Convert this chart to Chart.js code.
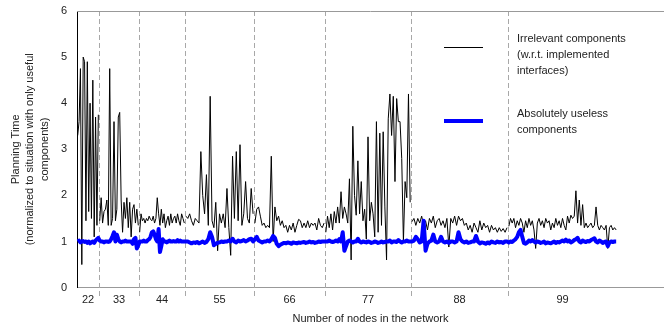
<!DOCTYPE html>
<html>
<head>
<meta charset="utf-8">
<script src="https://cdn.jsdelivr.net/npm/chart.js@4"></script>
<style>
  html, body { margin: 0; padding: 0; background: #fff; }
  #wrap { width: 664px; height: 326px; }
</style>
</head>
<body>
<div id="wrap"><canvas id="planChart"></canvas></div>
<script>
// network sizes and how many runs each block takes on the x axis
const groupLabels = ['22', '33', '44', '55', '66', '77', '88', '99'];
const groupRuns = [22, 40, 46, 69, 71, 86, 97, 109];
const runAxisMax = 587;

// irrelevant components (w.r.t. implemented interfaces)
const irrelevant22 = [3.3, 3.6, 4.75, 0.5, 5.0, 4.9, 1.45, 4.9, 1.65, 4.0, 1.5, 4.5, 1.1, 3.7, 1.35, 3.75];
const irrelevant33 = [1.45, 1.95, 1.4, 1.65, 1.7, 1.9, 1.35, 4.75, 1.35, 1.5, 3.6, 1.45, 1.7, 3.7, 3.8, 1.9, 1.2, 1.85, 1.5, 1.95, 1.3, 1.85, 1.1, 1.7, 1.8, 1.4, 1.7, 1.35];
const irrelevant44 = [1.2, 1.6, 1.45, 1.5, 1.4, 1.5, 1.45, 1.55, 1.48, 1.45, 1.55, 1.4, 1.5, 1.95, 1.6, 1.35, 1.7, 1.4, 1.6, 1.3, 1.45, 1.55, 1.35, 1.6, 1.4, 1.5, 1.55, 1.4, 1.6, 1.45, 1.35, 1.6, 1.5, 1.4];
const irrelevant55 = [1.55, 1.5, 1.6, 1.45, 1.35, 1.5, 1.45, 1.4, 2.95, 2.0, 1.6, 2.45, 1.35, 4.15, 1.45, 1.3, 1.85, 0.8, 1.6, 1.4, 1.6, 1.3, 2.15, 1.3, 0.7, 2.85, 1.5, 2.95, 1.45, 3.1, 1.35, 1.6, 2.3, 1.5, 1.4, 2.15, 1.6];
const irrelevant66 = [1.4, 1.7, 1.75, 1.55, 1.35, 1.4, 1.3, 1.35, 1.3, 2.85, 1.0, 1.75, 1.45, 1.55, 1.35, 1.45, 1.3, 1.35, 1.2, 1.35, 1.25, 1.4, 1.2, 1.35, 1.48, 1.45, 1.3, 1.4, 1.3, 1.45, 1.3, 1.4, 1.35, 1.4, 1.25, 1.5, 1.35, 1.3, 1.4];
const irrelevant77 = [1.2, 1.55, 1.3, 1.6, 1.25, 1.65, 1.4, 1.75, 1.4, 2.08, 1.5, 1.75, 1.6, 1.4, 2.36, 0.6, 3.5, 2.0, 1.57, 2.75, 1.6, 2.3, 1.45, 1.7, 1.05, 3.27, 1.45, 1.85, 1.6, 1.1, 3.6, 1.2, 3.35, 1.35, 3.38, 1.75, 0.6, 3.66, 4.2, 3.3, 4.15, 2.3, 4.1, 3.6, 3.6, 2.8, 1.0, 2.3, 1.95, 4.2, 1.85];
const irrelevant88 = [1.43, 1.5, 1.35, 1.5, 1.4, 1.55, 1.35, 1.45, 1.25, 1.5, 1.4, 1.55, 1.3, 1.45, 1.5, 1.35, 1.45, 1.3, 1.5, 0.88, 1.5, 1.4, 1.55, 1.35, 1.55, 1.45, 1.5, 1.35, 1.4, 1.25, 1.35, 1.2, 1.4, 1.3, 1.2, 1.45, 1.25, 1.4, 1.3, 1.35, 1.2, 1.35, 1.25, 1.3, 1.2, 1.3, 1.22, 1.28, 1.2, 1.3];
const irrelevant99 = [1.33, 1.5, 1.4, 1.5, 1.3, 1.45, 1.35, 1.5, 1.4, 1.2, 1.45, 1.3, 1.5, 1.35, 1.45, 1.25, 0.85, 1.4, 1.5, 1.35, 1.45, 1.3, 1.5, 1.4, 1.45, 1.25, 1.4, 1.3, 1.5, 1.35, 1.45, 1.3, 1.5, 1.35, 1.25, 1.55, 1.4, 1.57, 1.5, 1.55, 2.1, 1.4, 1.9, 1.35, 1.8, 1.3, 1.4, 1.3, 1.35, 1.4, 1.3, 1.35, 1.75, 1.35, 1.25, 1.35, 1.3, 1.25, 1.35, 0.85, 1.3, 1.35, 1.25, 1.3, 1.25];

// absolutely useless components
const useless22 = [1.0, 1.02, 0.98, 1.0, 1.01, 0.99, 1.0, 0.97, 1.0, 0.96, 0.98, 1.0, 0.97, 1.02, 1.05, 1.08];
const useless33 = [1.02, 1.0, 1.0, 0.98, 1.0, 1.0, 0.99, 1.0, 1.05, 1.12, 1.2, 1.0, 1.15, 1.05, 1.0, 0.98, 1.0, 1.0, 1.02, 1.0, 1.0, 1.0, 1.0, 0.95, 1.05, 1.08, 0.85, 0.92];
const useless44 = [1.0, 1.0, 1.0, 1.02, 1.0, 1.0, 1.03, 1.05, 1.1, 1.2, 1.22, 1.15, 1.05, 1.0, 1.27, 0.77, 0.9, 1.05, 1.0, 1.0, 0.98, 1.0, 1.02, 1.0, 1.0, 1.01, 1.0, 1.0, 1.03, 1.0, 1.02, 1.0, 1.0, 1.0];
const useless55 = [1.0, 1.0, 0.98, 0.96, 0.98, 0.97, 0.99, 0.96, 0.98, 1.0, 0.97, 0.99, 1.05, 1.2, 1.1, 0.92, 0.95, 0.97, 0.98, 1.0, 0.99, 1.0, 1.0, 1.02, 1.0, 1.06, 1.0, 0.98, 1.02, 1.0, 1.01, 1.03, 1.0, 1.02, 1.05, 1.06, 1.0];
const useless66 = [1.05, 1.1, 1.02, 1.0, 0.98, 1.0, 1.0, 1.02, 1.0, 1.05, 1.12, 1.08, 0.95, 0.9, 0.93, 0.95, 0.97, 0.96, 0.98, 0.97, 0.95, 0.98, 0.97, 0.96, 0.98, 0.97, 0.98, 0.99, 0.97, 0.98, 1.0, 0.98, 0.99, 0.97, 0.98, 1.0, 0.99, 1.0, 1.0];
const useless77 = [1.0, 1.0, 1.02, 1.0, 0.99, 1.0, 1.02, 1.0, 1.05, 1.0, 1.2, 0.8, 0.9, 1.0, 1.02, 1.0, 0.98, 1.0, 1.0, 1.06, 1.0, 0.98, 1.0, 0.99, 0.98, 1.0, 0.99, 0.97, 0.98, 1.0, 0.99, 0.97, 0.98, 1.0, 0.98, 0.99, 1.0, 1.0, 1.02, 0.98, 1.0, 1.0, 0.99, 1.03, 1.0, 0.98, 1.0, 1.0, 1.02, 1.0, 1.0];
const useless88 = [1.0, 1.02, 1.1, 1.05, 0.98, 1.0, 1.45, 0.8, 0.95, 1.0, 1.02, 1.15, 1.0, 0.98, 1.0, 1.1, 1.0, 0.98, 1.0, 0.97, 1.0, 1.0, 0.98, 1.0, 1.2, 1.05, 1.0, 0.98, 1.0, 0.97, 0.98, 1.0, 1.0, 1.12, 1.0, 0.96, 0.98, 0.97, 0.95, 0.98, 0.96, 1.0, 0.98, 0.97, 1.0, 0.98, 0.99, 0.97, 1.0, 1.0];
const useless99 = [0.98, 1.0, 0.99, 1.02, 1.05, 1.1, 1.2, 1.25, 1.1, 0.97, 0.95, 0.98, 1.02, 1.0, 1.03, 1.0, 0.98, 1.0, 0.99, 0.97, 0.98, 1.0, 0.96, 0.98, 0.97, 0.96, 0.98, 1.0, 0.97, 0.99, 0.98, 1.0, 1.02, 1.0, 1.04, 1.0, 1.02, 0.98, 1.0, 1.03, 1.05, 1.08, 1.0, 0.98, 1.02, 1.0, 0.99, 1.01, 1.0, 1.03, 1.05, 1.07, 1.0, 0.98, 1.02, 1.0, 0.97, 0.99, 1.0, 0.9, 0.98, 1.0, 0.99, 1.0, 1.0];

const irrelevant = [irrelevant22, irrelevant33, irrelevant44, irrelevant55, irrelevant66, irrelevant77, irrelevant88, irrelevant99];
const useless = [useless22, useless33, useless44, useless55, useless66, useless77, useless88, useless99];

// block edges on the run axis
const edges = [0];
groupRuns.forEach(function (r, i) { edges.push(edges[i] + r); });
const centers = groupRuns.map(function (r, i) { return edges[i] + r / 2; });

function spread(values, g) {
    const w = groupRuns[g] / values.length;
    return values.map(function (v, i) { return { x: edges[g] + (i + 0.5) * w, y: v }; });
}

let blackPts = [];
let bluePts = [];
for (let g = 0; g < groupLabels.length; g++) {
    blackPts = blackPts.concat(spread(irrelevant[g], g));
    blackPts.push({ x: edges[g + 1], y: null });   // break the line between blocks
    bluePts = bluePts.concat(spread(useless[g], g));
}

const FONT = 'Liberation Sans, Arial, sans-serif';
const TXT = '#222';

const separators = {
    id: 'separators',
    beforeDatasetsDraw(chart) {
        const { ctx, chartArea } = chart;
        const xs = chart.scales.x;
        ctx.save();
        ctx.strokeStyle = '#a8a8a8';
        ctx.lineWidth = 1;
        ctx.setLineDash([5, 3]);
        for (let i = 1; i < edges.length - 1; i++) {
            const px = Math.round(xs.getPixelForValue(edges[i])) + 0.5;
            ctx.beginPath();
            ctx.moveTo(px, chartArea.top);
            ctx.lineTo(px, chartArea.bottom + 10);
            ctx.stroke();
        }
        ctx.setLineDash([]);
        ctx.strokeStyle = '#999';
        ctx.beginPath();
        ctx.moveTo(chartArea.left, chartArea.top + 0.5);
        ctx.lineTo(chartArea.right, chartArea.top + 0.5);
        ctx.stroke();
        ctx.restore();
    }
};

const sideLegend = {
    id: 'sideLegend',
    afterDraw(chart) {
        const ctx = chart.ctx;
        const items = [
            { ds: chart.data.datasets[1], y: 47.5, lines: ['Irrelevant components', '(w.r.t. implemented', 'interfaces)'], ty: 39 },
            { ds: chart.data.datasets[0], y: 121, lines: ['Absolutely useless', 'components'], ty: 114 }
        ];
        ctx.save();
        items.forEach(function (it) {
            ctx.strokeStyle = it.ds.borderColor;
            ctx.lineWidth = it.ds.borderWidth;
            ctx.beginPath();
            ctx.moveTo(444, it.y);
            ctx.lineTo(483, it.y);
            ctx.stroke();
            ctx.fillStyle = TXT;
            ctx.font = '11px ' + FONT;
            ctx.textBaseline = 'middle';
            it.lines.forEach(function (t, k) {
                ctx.fillText(t, 517, it.ty + k * 16);
            });
        });
        ctx.restore();
    }
};

new Chart(document.getElementById('planChart'), {
    type: 'line',
    data: {
        datasets: [{
            label: 'Absolutely useless components',
            data: bluePts,
            borderColor: '#0000ff',
            borderWidth: 4,
            pointRadius: 0,
            tension: 0,
            borderJoinStyle: 'round'
        }, {
            label: 'Irrelevant components (w.r.t. implemented interfaces)',
            data: blackPts,
            borderColor: '#000000',
            borderWidth: 1,
            pointRadius: 0,
            tension: 0,
            spanGaps: false
        }]
    },
    options: {
        responsive: true,
        maintainAspectRatio: false,
        animation: false,
        layout: { padding: { top: 11, right: 0, bottom: 0, left: 0 } },
        plugins: {
            legend: { display: false },
            tooltip: { enabled: false }
        },
        scales: {
            x: {
                type: 'linear',
                min: 0,
                max: runAxisMax,
                grid: { display: false, drawTicks: false },
                border: { color: '#999' },
                afterBuildTicks: function (scale) {
                    scale.ticks = centers.map(function (c) { return { value: c }; });
                },
                ticks: {
                    autoSkip: false,
                    maxRotation: 0,
                    padding: 6,
                    color: TXT,
                    font: { family: FONT, size: 11 },
                    callback: function (value, index) { return groupLabels[index]; }
                },
                title: {
                    display: true,
                    text: 'Number of nodes in the network',
                    color: TXT,
                    font: { family: FONT, size: 11 },
                    padding: { top: 0, bottom: 0 }
                }
            },
            y: {
                min: 0,
                max: 6,
                grid: { display: false, drawOnChartArea: false, drawTicks: true, tickLength: 4, tickColor: '#000' },
                border: { color: '#000' },
                afterFit: function (scale) {
                    scale.width = 77;
                    scale.paddingTop = 0;
                    scale.paddingBottom = 0;
                },
                ticks: {
                    stepSize: 1,
                    padding: 6,
                    color: TXT,
                    font: { family: FONT, size: 11 }
                },
                title: {
                    display: true,
                    text: ['Planning Time', '(normalized to situation with only useful', 'components)'],
                    color: TXT,
                    font: { family: FONT, size: 11, lineHeight: 1.3 },
                    padding: { top: 9, bottom: 0 }
                }
            }
        }
    },
    plugins: [separators, sideLegend]
});
</script>
</body>
</html>
